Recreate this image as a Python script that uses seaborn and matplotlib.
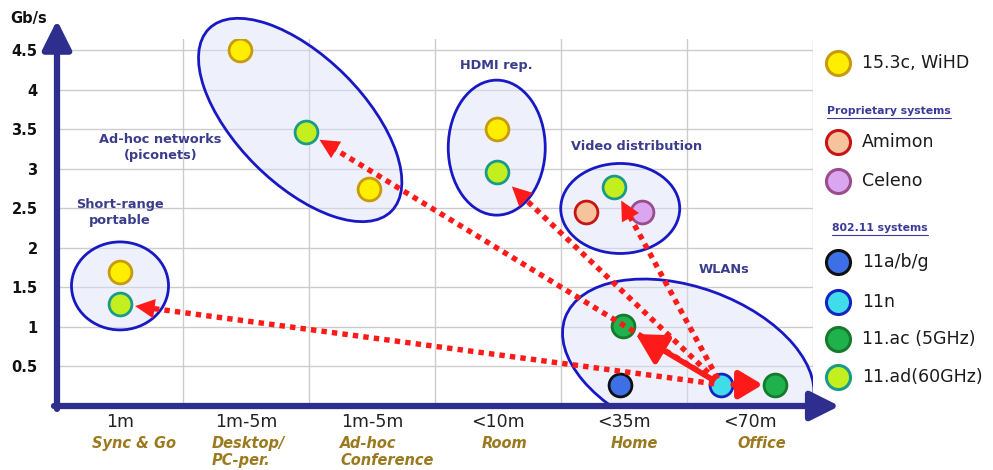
import matplotlib
matplotlib.use("Agg")
import matplotlib.pyplot as plt
import matplotlib.transforms as mtransforms
from matplotlib.patches import Ellipse
import seaborn as sns
import pandas as pd
import numpy as np

# --- data ---------------------------------------------------------------
ranges = ["1m", "1m-5m", "1m-5m", "<10m", "<35m", "<70m"]
usages = ["Sync & Go", "Desktop/\nPC-per.", "Ad-hoc\nConference", "Room", "Home", "Office"]
usage_dx = [-28, -34, -32, -16, -13, -13]   # px offset of label left edge from category centre
y_ticks = [0.5, 1, 1.5, 2, 2.5, 3, 3.5, 4, 4.5]

pt_x = [0.0, 0.0, 0.95, 1.48, 1.98, 2.99, 2.99, 3.92, 3.70, 4.14, 3.99, 3.97, 4.77, 5.20]
pt_y = [1.70, 1.29, 4.50, 3.47, 2.75, 3.50, 2.96, 2.77, 2.46, 2.46, 1.01, 0.27, 0.27, 0.27]
pt_sys = ["wihd", "ad", "wihd", "ad", "wihd", "wihd", "ad", "ad",
          "amimon", "celeno", "ac", "abg", "n", "ac"]

sys_keys = ["wihd", "amimon", "celeno", "abg", "n", "ac", "ad"]
sys_names = ["15.3c, WiHD", "Amimon", "Celeno", "11a/b/g", "11n", "11.ac (5GHz)", "11.ad(60GHz)"]
sys_face = ["#ffee00", "#f6c39c", "#dba6f0", "#3d6fe6", "#40dcea", "#1fb24c", "#c4ef1e"]
sys_edge = ["#c89a10", "#c81414", "#9a4c8c", "#101010", "#1424c0", "#157a2c", "#1a9a8c"]

# groups: label, label pos, ellipse centre, width/height (px), angle
grp_labels = ["Short-range\nportable", "Ad-hoc networks\n(piconets)", "HDMI rep.",
              "Video distribution", "WLANs"]
grp_label_x = [0.0, 0.32, 2.99, 4.10, 4.79]
grp_label_y = [2.45, 3.27, 4.31, 3.29, 1.73]
ell_x = [0.0, 1.43, 2.99, 3.97, 4.51]
ell_y = [1.52, 3.62, 3.27, 2.50, 0.55]
ell_w = [97, 258, 97, 119, 262]
ell_h = [88, 127, 135, 90, 150]
ell_ang = [0, -45, 0, 0, -20]
ell_clip = [True, False, True, True, True]

# dotted arrows from 11n point to 11ad points (indices into pt lists)
dot_from = 12
dot_to = [1, 3, 6, 7]
dot_shrink = [11, 11, 15, 11]

# ------------------------------------------------------------------------
sns.set_theme(style="white")
plt.rcParams["font.family"] = ["DejaVu Sans"]

navy = "#2e2e8e"
lbl_col = "#3b3d8c"
gold = "#9b7a1f"
red = "#ff1a1a"

fig = plt.figure(figsize=(9.93, 4.70), dpi=100)
ax = fig.add_axes([57 / 993, 64 / 470, 756 / 993, 367.4 / 470])
ax.set_xlim(-0.5, 5.5)
ax.set_ylim(0, 4.65)

# grid
ax.set_yticks(y_ticks)
ax.set_yticklabels([("%g" % v) for v in y_ticks], fontsize=10.5, fontweight="bold", color="#111111")
ax.set_xticks(range(len(ranges)))
ax.set_xticklabels(ranges, fontsize=12.5, color="#222222")
ax.set_xticks([i + 0.5 for i in range(len(ranges))], minor=True)
ax.grid(False)
ax.grid(True, axis="y", which="major", color="#cccccc", lw=1)
ax.grid(True, axis="x", which="minor", color="#cccccc", lw=1)
ax.tick_params(which="both", length=0)
ax.tick_params(axis="x", pad=5)
ax.tick_params(axis="y", pad=14)
for s in ax.spines.values():
    s.set_visible(False)

# axis arrows
arr = dict(arrowstyle="-|>,head_length=1.1,head_width=0.55", lw=4.5, color=navy,
           mutation_scale=16, shrinkA=0, shrinkB=0)
ax.annotate("", xy=(0, 1.05), xytext=(0, -0.008), xycoords="axes fraction",
            arrowprops=arr, annotation_clip=False)
ax.annotate("", xy=(1.035, 0), xytext=(-0.004, 0), xycoords="axes fraction",
            arrowprops=arr, annotation_clip=False)
fig.text(10 / 993, 1 - 18 / 470, "Gb/s", fontsize=10.5, fontweight="bold", color="#111111",
         va="center")

# usage sub-labels
blend = mtransforms.blended_transform_factory(ax.transData, ax.transAxes)
for i, (u, dx) in enumerate(zip(usages, usage_dx)):
    tr = blend + mtransforms.ScaledTranslation(dx / 100, 0, fig.dpi_scale_trans)
    ax.text(i, -0.082, u, transform=tr, ha="left", va="top",
            fontsize=10.5, fontweight="bold", fontstyle="italic", color=gold, linespacing=1.15)

# ellipses (sized in pixels, centred in data coords)
for cx, cy, w, h, a, c in zip(ell_x, ell_y, ell_w, ell_h, ell_ang, ell_clip):
    tr = (mtransforms.Affine2D().scale(0.01) + fig.dpi_scale_trans
          + mtransforms.ScaledTranslation(cx, cy, ax.transData))
    e = Ellipse((0, 0), w, h, angle=a, transform=tr, facecolor=(0.86, 0.88, 0.97, 0.45),
                edgecolor="#1818c4", lw=2, zorder=1, clip_on=c)
    if c:
        e.set_clip_path(ax.patch)
    ax.add_patch(e)

for lab, lx, ly in zip(grp_labels, grp_label_x, grp_label_y):
    ax.text(lx, ly, lab, ha="center", va="center", fontsize=9.3, fontweight="bold",
            color=lbl_col, linespacing=1.35, zorder=5)

# points
df = pd.DataFrame({"x": pt_x, "y": pt_y, "sys": pt_sys})
for k, fc, ec in zip(sys_keys, sys_face, sys_edge):
    sub = df[df["sys"] == k]
    if len(sub) == 0:
        continue
    sns.scatterplot(data=sub, x="x", y="y", ax=ax, s=270, color=fc, edgecolor=ec,
                    linewidth=2, zorder=3, legend=False)
ax.set_xlabel("")
ax.set_ylabel("")


def shrunk(p0, p1, s0, s1):
    # shorten segment p0->p1 by s0/s1 points at each end, return data coords
    a = ax.transData.transform(p0)
    b = ax.transData.transform(p1)
    d = (b - a) / np.hypot(*(b - a))
    a2 = a + d * s0 * fig.dpi / 72
    b2 = b - d * s1 * fig.dpi / 72
    inv = ax.transData.inverted()
    return inv.transform(a2), inv.transform(b2)


# dotted arrows
src = (pt_x[dot_from], pt_y[dot_from])
for j, sh in zip(dot_to, dot_shrink):
    tgt = (pt_x[j], pt_y[j])
    a2, b2 = shrunk(src, tgt, 5, sh + 11)
    ax.plot([a2[0], b2[0]], [a2[1], b2[1]], color=red, lw=3.9, linestyle=(0, (1, 0.95)),
            dash_capstyle="butt", zorder=4)
    ax.annotate("", xy=tgt, xytext=src,
                arrowprops=dict(arrowstyle="-|>,head_length=1.0,head_width=0.5", color=red,
                                lw=0, mutation_scale=14, shrinkA=5, shrinkB=sh), zorder=4)

# solid arrows between WLAN points
ax.annotate("", xy=(pt_x[10], pt_y[10]), xytext=src,
            arrowprops=dict(arrowstyle="-|>,head_length=1.0,head_width=0.55", color=red,
                            lw=4, mutation_scale=18, shrinkA=9, shrinkB=11), zorder=4)
ax.annotate("", xy=(pt_x[13], pt_y[13]), xytext=src,
            arrowprops=dict(arrowstyle="-|>,head_length=1.0,head_width=0.6", color=red,
                            lw=4.5, mutation_scale=14, shrinkA=9, shrinkB=9), zorder=4)

# legend panel (pixel-like coords)
lax = fig.add_axes([814 / 993, 0, 179 / 993, 1])
lax.set_xlim(0, 179)
lax.set_ylim(470, 0)
lax.axis("off")
leg_rows = [63, 142, 181, 262, 302, 339, 377]
leg_df = pd.DataFrame({"x": [24] * len(sys_keys), "y": leg_rows, "sys": sys_keys})
for k, fc, ec in zip(sys_keys, sys_face, sys_edge):
    sns.scatterplot(data=leg_df[leg_df["sys"] == k], x="x", y="y", ax=lax, s=300, color=fc,
                    edgecolor=ec, linewidth=2.2, legend=False, clip_on=False)
for name, yy in zip(sys_names, leg_rows):
    lax.text(48, yy, name, fontsize=12.5, color="#1a1a1a", va="center")

headers = ["Proprietary systems", "802.11 systems"]
head_x = [13, 18]
head_y = [111, 228]
fig.canvas.draw()
r = fig.canvas.get_renderer()
for h, hx, hy in zip(headers, head_x, head_y):
    t = lax.text(hx, hy, h, fontsize=7.8, fontweight="bold", color="#3a3a9a", va="center")
    bb = t.get_window_extent(r).transformed(lax.transData.inverted())
    lax.plot([bb.x0, bb.x1], [hy + 6.5, hy + 6.5], color="#3a3a9a", lw=0.8)

fig.savefig("out.png", dpi=100, facecolor="white")
